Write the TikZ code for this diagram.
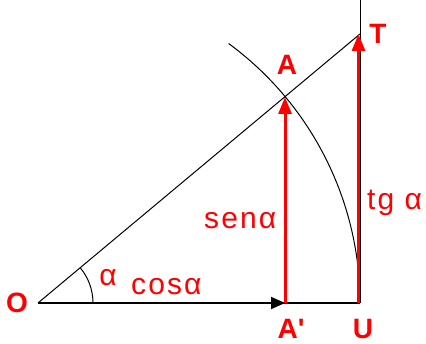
\documentclass[tikz,border=0pt]{standalone}
\usepackage{fontspec}
\setmainfont{Liberation Sans}
\usetikzlibrary{arrows.meta}
\definecolor{lblred}{RGB}{255,0,0}
\tikzset{
  big/.style={text=lblred,font=\fontsize{28}{30}\selectfont\bfseries,inner sep=0pt},
  small/.style={text=lblred,font=\fontsize{30}{32}\selectfont\addfontfeature{LetterSpace=7},inner sep=0pt},
  thin/.style={black,line width=1pt},
  redarrow/.style={lblred,line width=3pt,-{Triangle[length=17pt,width=13pt]}},
}
\begin{document}
\begin{tikzpicture}[x=1pt,y=1pt]
\useasboundingbox (0,0) rectangle (426,344);
\coordinate (O) at (38,41);
\coordinate (U) at (360,41);
\coordinate (Ap) at (285,41);
\coordinate (A) at (285,247);
\coordinate (T) at (360,310);
\coordinate (top) at (360,344);
% lines
\draw[thin] (O) -- (T);
\draw[thin] (U) -- (top);
\draw[thin] (U) arc[start angle=0,end angle=53.7,radius=322];
\draw[thin] ([xshift=55pt]O) arc[start angle=0,end angle=39.9,radius=55];
\draw[black,line width=2pt] (O) -- (U);
\draw[black,line width=2pt,-{Triangle[length=14pt,width=12pt]}] (O) -- (Ap);
\draw[redarrow] (Ap) -- (A);
\draw[redarrow] ([xshift=-1.5pt]U) -- ([xshift=-1.5pt]T);
% labels
\node[big] (lO) at (17,41) {O};
\node[big] (lA) at (287,279) {A};
\node[big] (lT) at (378,310) {T};
\node[big] (lAp) at (291,15) {A\textquotesingle};
\node[big] (lU) at (363,15) {U};
\node[small] (lal) at (108,66) {α};
\node[small,anchor=base west] (lcos) at (131,49) {cosα};
\node[small,anchor=base west] (lsen) at (204,115) {senα};
\node[small,anchor=base west] (ltg) at (367,134) {tg α};
\end{tikzpicture}
\end{document}
